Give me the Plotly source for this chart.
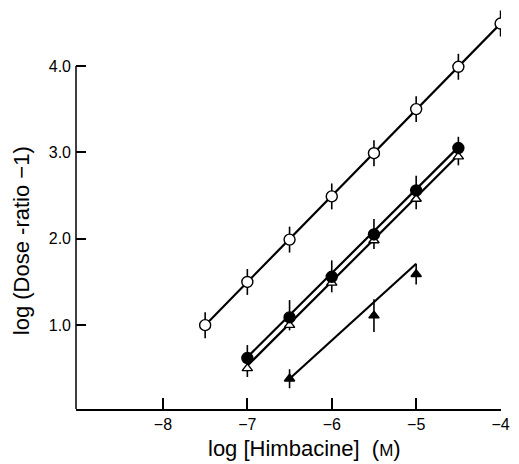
import plotly.graph_objects as go

# Data
x_open_circle = [-7.5, -7.0, -6.5, -6.0, -5.5, -5.0, -4.5, -4.0]
y_open_circle = [1.00, 1.50, 1.99, 2.49, 2.99, 3.50, 3.99, 4.49]
err_open_circle = [0.15, 0.15, 0.15, 0.15, 0.15, 0.15, 0.15, 0.15]

x_filled_circle = [-7.0, -6.5, -6.0, -5.5, -5.0, -4.5]
y_filled_circle = [0.62, 1.09, 1.56, 2.05, 2.56, 3.05]
err_filled_circle = [0.15, 0.20, 0.19, 0.18, 0.17, 0.13]

x_open_triangle = [-7.0, -6.5, -6.0, -5.5, -5.0, -4.5]
y_open_triangle = [0.50, 1.00, 1.49, 1.98, 2.46, 2.95]
err_open_triangle = [0.10, 0.06, 0.11, 0.10, 0.12, 0.10]

x_filled_triangle = [-6.5, -5.5, -5.0]
y_filled_triangle = [0.38, 1.11, 1.59]
err_filled_triangle = [0.11, 0.19, 0.12]

# fitted regression lines (end points)
fit_open_circle_x = [-7.5, -4.0]
fit_open_circle_y = [1.00, 4.49]
fit_filled_circle_x = [-7.0, -4.5]
fit_filled_circle_y = [0.63, 3.06]
fit_open_triangle_x = [-7.0, -4.5]
fit_open_triangle_y = [0.53, 2.97]
fit_filled_triangle_x = [-6.5, -5.0]
fit_filled_triangle_y = [0.38, 1.71]

x_ticks = [-8, -7, -6, -5, -4]
y_ticks = [1.0, 2.0, 3.0, 4.0]

FONT = "Liberation Sans, Arial, Helvetica, sans-serif"
fig = go.Figure()

for fx, fy in [(fit_open_circle_x, fit_open_circle_y),
               (fit_filled_circle_x, fit_filled_circle_y),
               (fit_open_triangle_x, fit_open_triangle_y),
               (fit_filled_triangle_x, fit_filled_triangle_y)]:
    fig.add_trace(go.Scatter(x=fx, y=fy, mode="lines",
                             line=dict(color="black", width=2.2),
                             showlegend=False, hoverinfo="skip"))

def pts(x, y, eplus, eminus, symbol, fill, size):
    fig.add_trace(go.Scatter(
        x=x, y=y, mode="markers", showlegend=False,
        marker=dict(symbol=symbol, size=size, color=fill,
                    line=dict(color="black", width=1.4)),
        error_y=dict(type="data", symmetric=False, array=eplus, arrayminus=eminus,
                     color="black", thickness=1.6, width=0)))

pts(x_open_circle, y_open_circle, err_open_circle, err_open_circle,
    "circle", "white", 11)
pts(x_open_triangle, y_open_triangle, [0] * len(err_open_triangle), err_open_triangle,
    "triangle-up", "white", 9)
pts(x_filled_circle, y_filled_circle, err_filled_circle, [0] * len(err_filled_circle),
    "circle", "black", 11)
pts(x_filled_triangle, y_filled_triangle, err_filled_triangle, err_filled_triangle,
    "triangle-up", "black", 9)

fig.update_layout(
    width=519, height=464,
    margin=dict(l=76, r=9, t=10, b=55),
    plot_bgcolor="white", paper_bgcolor="white",
    font=dict(family=FONT, color="black", size=16),
    xaxis=dict(range=[-9.03, -3.995], tickvals=x_ticks, ticks="inside", ticklen=11,
               tickwidth=1.5, tickcolor="black", showline=True, linecolor="black",
               linewidth=1.5, showgrid=False, zeroline=False,
               tickfont=dict(size=16, family=FONT)),
    yaxis=dict(range=[0.03, 4.647], tickvals=y_ticks, tickformat=".1f",
               ticks="inside", ticklen=10, tickwidth=1.5, tickcolor="black",
               showline=False, showgrid=False, zeroline=False, ticklabelstandoff=4,
               tickfont=dict(size=16, family=FONT)),
    shapes=[dict(type="line", xref="paper", yref="y", x0=0, x1=0, y0=0.03, y1=4.0,
                 line=dict(color="black", width=1.5))],
    annotations=[
        dict(text="log [Himbacine]  (<span style='font-size:17px'>M</span>)",
             xref="paper", yref="paper", x=0.537, y=-0.099,
             xanchor="center", yanchor="middle", showarrow=False,
             font=dict(size=22, family=FONT)),
        dict(text="log (Dose -ratio −1)", textangle=-90,
             xref="paper", yref="paper", x=-0.129, y=0.421,
             xanchor="center", yanchor="middle", showarrow=False,
             font=dict(size=22, family=FONT)),
    ],
)

fig.write_html("out.html", config={"displayModeBar": False},
               post_script="document.body.style.margin='0';document.body.style.overflow='hidden';")
